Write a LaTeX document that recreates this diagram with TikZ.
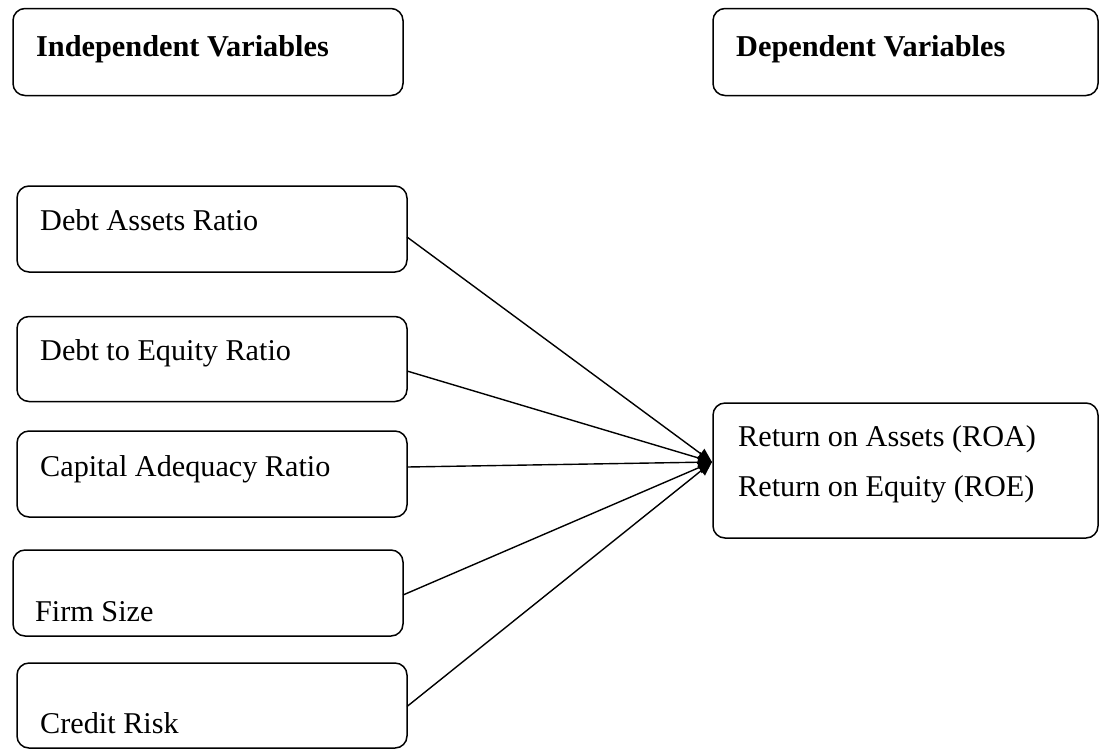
\documentclass[tikz,border=0pt]{standalone}
\usepackage{fontspec}
\setmainfont{Liberation Serif}
\usetikzlibrary{arrows.meta}
\tikzset{
  vbox/.style={draw=black, line width=1.5pt, rounded corners=12pt, inner sep=0pt, outer sep=0pt, anchor=north west},
  vtext/.style={anchor=base west, inner sep=0pt, font=\fontsize{30.2}{36}\selectfont},
  vhead/.style={anchor=base west, inner sep=0pt, font=\fontsize{30.3}{36}\selectfont\bfseries},
  link/.style={line width=1.4pt, -{Triangle[length=14pt,width=12pt]}}
}
\begin{document}
\begin{tikzpicture}[x=1pt,y=-1pt]
\useasboundingbox (0,0) rectangle (1102,748);
% header boxes
\node[vbox, minimum width=390pt, minimum height=87pt] (ib) at (13,8.5) {};
\node[vhead] (it) at (36,56) {Independent Variables};
\node[vbox, minimum width=385pt, minimum height=87pt] (db) at (713,8.5) {};
\node[vhead] (dt) at (736,56) {Dependent Variables};
% independent boxes
\node[vbox, minimum width=390pt, minimum height=86pt] (b1) at (17,186) {};
\node[vtext] (t1) at (40,230) {Debt Assets Ratio};
\node[vbox, minimum width=390pt, minimum height=85pt] (b2) at (17,316.5) {};
\node[vtext] (t2) at (40,360) {Debt to Equity Ratio};
\node[vbox, minimum width=390pt, minimum height=86pt] (b3) at (17,431) {};
\node[vtext] (t3) at (40,476) {Capital Adequacy Ratio};
\node[vbox, minimum width=390pt, minimum height=86pt] (b4) at (13,550) {};
\node[vtext] (t4) at (35,621) {Firm Size};
\node[vbox, minimum width=390pt, minimum height=85pt] (b5) at (17,663) {};
\node[vtext] (t5) at (40,733) {Credit Risk};
% dependent box
\node[vbox, minimum width=385pt, minimum height=135pt] (r) at (713,403) {};
\node[vtext] (r1) at (738,446) {Return on Assets (ROA)};
\node[vtext] (r2) at (738,496) {Return on Equity (ROE)};
% convergence point
\coordinate (tip) at (712,462);
\draw[link] ([yshift=-8pt]b1.east) -- (tip);
\draw[link] ([yshift=-12pt]b2.east) -- (tip);
\draw[link] ([yshift=7pt]b3.east) -- (tip);
\draw[link] ([yshift=-2pt]b4.east) -- (tip);
\draw[link] ([yshift=-1pt]b5.east) -- (tip);
\end{tikzpicture}
\end{document}
